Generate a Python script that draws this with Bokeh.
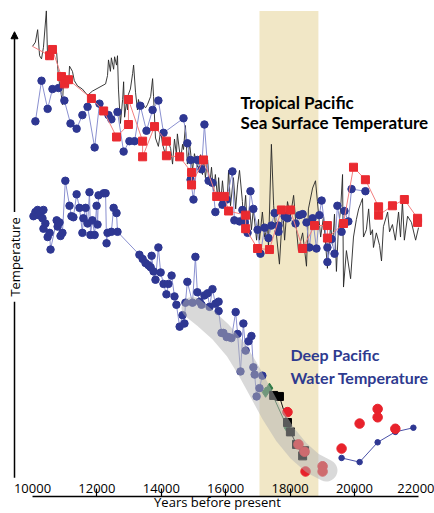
from math import pi
from bokeh.plotting import figure
from bokeh.models import (Range1d, LinearAxis, FixedTicker, BoxAnnotation, Label,
                          Arrow, NormalHead)
from bokeh.embed import file_html
from bokeh.resources import INLINE

# ---------------- data (years before present, relative temperature) ----------------
tick_years = [10000, 12000, 14000, 16000, 18000, 20000, 22000]
inner_ticks = [12000, 14000, 16000, 18000, 20000]
shade_years = [17050, 18880]

# high-resolution tropical SST record (thin black line)
sst_hr_year = [10000, 10090, 10160, 10220, 10280, 10340, 10430, 10470, 10530, 10590, 10650, 10750,
               10810, 10870, 10930, 10960, 11060, 11120, 11150, 11240, 11300, 11400, 11550, 11710,
               11860, 12270,
               12330, 12360, 12420, 12450, 12520, 12550, 12610, 12640, 12670, 12730, 12800, 12830,
               12860, 12920, 12950, 12980, 13040, 13110, 13140, 13200, 13260, 13290, 13350, 13420,
               13510, 13570, 13670, 13730, 13760, 13820, 13910, 13980, 14040, 14130, 14190, 14290,
               14350, 14410, 14470, 14500, 14600, 14660, 14690, 14750, 14810, 14880, 14970, 15030,
               15120, 15220,
               15280, 15310, 15370, 15440, 15500, 15560, 15620, 15680, 15750, 15780, 15840, 15900,
               15960, 16060, 16090, 16150, 16240, 16310, 16370, 16430, 16520, 16550, 16620, 16680,
               16740, 16800, 16860, 16960, 17020, 17050, 17140, 17210, 17300, 17330,
               17420, 17490, 17550, 17670, 17770, 17830, 17920, 18010, 18110, 18170, 18260, 18390,
               18510, 18570, 18700, 18790, 18850, 18950, 19040, 19160, 19260, 19320, 19380, 19440,
               19500, 19570, 19630, 19660, 19750, 19880, 19970, 20060, 20130, 20190, 20250, 20280,
               20370, 20440, 20500, 20560, 20590, 20680, 20780, 20840, 20900, 21030, 21090, 21180,
               21270, 21370, 21430, 21490, 21550, 21650, 21770, 21900, 21990]
sst_hr_temp = [43.2, 43.6, 44.8, 42.3, 42.0, 43.1, 46.6, 41.9, 43.3, 41.9, 42.6, 42.6,
               40.1, 39.2, 37.6, 39.6, 39.8, 39.3, 41.3, 40.8, 39.9, 39.4, 39.1, 38.5,
               38.9, 39.6,
               40.4, 41.9, 40.8, 42.1, 41.0, 42.2, 41.4, 42.3, 39.1, 35.8, 38.1, 39.8,
               36.4, 37.9, 37.1, 38.6, 39.1, 40.6, 41.4, 38.8, 37.1, 38.1, 37.3, 37.6,
               37.3, 37.6, 38.4, 40.1, 38.4, 34.4, 33.6, 35.1, 33.8, 32.8, 34.3, 33.4,
               31.9, 34.3, 32.8, 34.8, 32.3, 33.8, 33.3, 35.6, 31.9, 33.9, 31.3, 32.9,
               31.6, 32.8,
               30.9, 32.6, 30.6, 32.3, 29.8, 31.6, 29.3, 30.9, 28.6, 30.6, 27.9, 30.3,
               28.3, 29.3, 31.3, 27.9, 30.6, 27.6, 29.9, 31.3, 28.3, 26.3, 28.9, 25.3,
               27.9, 25.6, 27.6, 24.6, 26.6, 24.6, 27.3, 24.9, 25.9, 23.9,
               33.8, 27.9, 25.9, 22.3, 27.6, 24.6, 28.3, 26.9, 28.9, 26.6, 23.6, 25.3,
               22.1, 27.6, 29.6, 30.3, 28.3, 24.9, 26.9, 21.9, 26.1, 24.1, 27.1, 21.6,
               25.6, 27.6, 30.9, 20.1, 23.6, 20.9, 24.9, 26.6, 27.6, 28.1, 28.6, 24.9,
               25.6, 27.6, 25.1, 25.6, 23.9, 25.3, 24.1, 22.6, 25.9, 27.3, 25.4, 26.1,
               24.6, 27.3, 24.9, 28.3, 24.6, 26.9, 26.3, 24.6, 25.8]

# alkenone SST (red squares); first point starts the line only
sst_red_year = [10000, 10530, 10620, 10900, 10990, 11120, 11830, 12210, 12610, 12980, 12980,
                13420, 13420, 13790, 14160, 14160, 14570, 14940, 14940, 15310, 15720, 15960,
                16090, 16620, 16620, 16990, 17360, 17730, 18010, 18390, 18760, 19160, 19160,
                19660, 19970, 20340, 20750, 20750, 21180, 21550, 21960, 21960]
sst_red_temp = [43.2, 42.3, 42.9, 40.3, 39.6, 40.0, 38.2, 37.0, 34.5, 35.7, 38.1,
                34.1, 32.6, 35.5, 34.1, 32.7, 32.6, 31.1, 29.9, 32.3, 28.8, 28.8,
                27.4, 27.0, 25.7, 23.8, 23.7, 27.5, 27.5, 23.8, 26.0, 26.0, 24.8,
                26.2, 31.6, 30.4, 27.8, 27.0, 27.9, 28.5, 26.7, 26.3]

# Mg/Ca SST (blue circles, upper)
sst_blue_year = [10090, 10280, 10470, 10620, 10810, 10990, 11180, 11370, 11550, 11710, 11930,
                 12080, 12360, 12450, 12640, 12830, 13010, 13170, 13350, 13540, 13730, 13910,
                 14070, 14690, 14810, 14910, 14910, 15000, 15120, 15250, 15340, 15470, 15590,
                 15680, 15900, 16030, 16210, 16270, 16430, 16520, 16590, 16680, 16770, 16860,
                 16990, 17080, 17210, 17330, 17420, 17520, 17640, 17640, 17830, 17920, 18170,
                 18290, 18390, 18510, 18600, 18700, 18820, 18910, 18980, 19160, 19160, 19290,
                 19380, 19470, 19600, 19690, 19810, 19910, 20340]
sst_blue_temp = [36.0, 39.9, 37.2, 39.1, 39.2, 38.0, 35.8, 35.3, 36.6, 37.4, 33.5,
                 37.7, 36.6, 36.2, 36.9, 33.1, 34.1, 34.1, 37.5, 35.1, 37.1, 38.0,
                 34.9, 36.3, 33.9, 32.3, 30.4, 28.5, 32.3, 31.4, 35.7, 30.3, 30.1,
                 27.3, 28.0, 28.5, 31.2, 26.5, 26.4, 27.5, 26.3, 25.3, 29.3, 27.6,
                 25.6, 23.3, 25.8, 24.8, 26.0, 27.2, 26.0, 25.4, 26.9, 26.7, 26.2,
                 27.0, 27.1, 26.3, 23.9, 26.7, 23.8, 27.0, 28.4, 23.9, 22.5, 24.7,
                 23.3, 27.9, 25.4, 27.4, 26.4, 29.5, 29.3]

# deep Pacific water temperature (blue circles, lower)
deep_year = [10030, 10090, 10160, 10190, 10250, 10310, 10340, 10340, 10400, 10470, 10530, 10560,
             10750, 10780, 10840, 10870, 10930, 11020, 11150, 11210, 11270, 11370, 11460, 11550,
             11580, 11650, 11710, 11770, 11800, 11860, 11930, 11990, 12020, 12050, 12210, 12270,
             12300, 12330, 12450, 12520, 12610, 12640,
             13320, 13420, 13510, 13600, 13670, 13700, 13760, 13820, 13910, 13980, 14070, 14160,
             14220, 14320, 14410, 14470, 14570, 14660, 14720, 14750, 14810, 14970, 15060, 15120,
             15190, 15250, 15340, 15440, 15500, 15590, 15680, 15780, 15780, 15870, 15930, 16030,
             16090, 16180, 16310, 16370, 16460, 16550, 16620, 16710, 16800, 16860, 16900, 16960,
             17050, 17140]
deep_temp = [26.9, 27.3, 27.5, 27.0, 27.2, 26.7, 27.5, 25.7, 26.2, 24.9, 25.3, 23.7,
             26.5, 25.9, 26.3, 25.0, 25.3, 30.3, 27.9, 26.9, 26.8, 29.0, 27.7, 25.3,
             26.7, 27.7, 26.2, 29.2, 25.1, 26.5, 25.1, 27.9, 26.1, 28.9, 29.1, 29.1,
             24.3, 25.3, 25.4, 27.7, 27.2, 25.4,
             23.2, 22.8, 22.4, 22.2, 22.0, 23.1, 21.6, 20.8, 23.9, 21.5, 20.4, 19.4,
             20.4, 21.2, 19.2, 18.4, 16.3, 17.4, 16.6, 18.6, 20.6, 18.6, 23.0, 19.6,
             18.7, 18.4, 19.3, 19.5, 18.2, 19.9, 18.5, 18.7, 17.8, 15.7, 15.7, 15.3,
             15.3, 15.2, 17.7, 15.6, 12.0, 16.6, 14.0, 14.9, 15.4, 12.4, 11.7, 9.6,
             10.4, 11.6]

# deep-water trend (grey band)
trend_year = [14970, 15370, 15840, 16310, 16710, 17080, 17450, 17860, 18260, 18700, 19130]
trend_temp = [18.1, 17.1, 15.8, 14.1, 12.1, 10.0, 7.9, 5.9, 4.4, 3.2, 2.5]

green_year = [17240, 17360, 17920]
green_temp = [10.0, 10.4, 6.6]

black_sq_year = [17490, 17670, 17920, 18010, 18200, 18390, 18450]
black_sq_temp = [9.7, 9.6, 7.1, 6.2, 5.0, 3.9, 4.4]

red_dot_year = [17920, 18260, 18450, 18480, 19010, 19010, 19600, 20160, 20720, 20720, 21270]
red_dot_temp = [8.1, 5.0, 4.3, 2.4, 2.9, 2.4, 4.6, 7.0, 8.4, 7.6, 6.5]

deep_late_year = [19600, 20160, 20720, 21270, 21830]
deep_late_temp = [3.7, 3.3, 5.2, 6.2, 6.6]

# ---------------- figure ----------------
NAVY = "#2e3792"
p = figure(width=434, height=513, output_backend="svg", toolbar_location=None,
           x_range=Range1d(9006, 22486), y_range=Range1d(0, 47.6),
           x_axis_type=None, y_axis_type=None,
           min_border_left=0, min_border_right=0, min_border_top=0, min_border_bottom=0)
p.outline_line_color = None
p.background_fill_color = "white"

xaxis = LinearAxis(ticker=FixedTicker(ticks=tick_years, minor_ticks=inner_ticks),
                   bounds=(tick_years[0], tick_years[-1]))
xaxis.axis_line_color = "black"
xaxis.axis_line_width = 1.5
xaxis.major_tick_line_color = None
xaxis.major_tick_in = 0
xaxis.major_tick_out = 0
xaxis.minor_tick_line_color = "black"
xaxis.minor_tick_line_width = 1.2
xaxis.minor_tick_in = 8
xaxis.minor_tick_out = 0
xaxis.major_label_text_font = "Open Sans"
xaxis.major_label_text_font_size = "13px"
xaxis.major_label_text_color = "black"
xaxis.major_label_standoff = -13
xaxis.axis_label = "Years before present"
xaxis.axis_label_text_font = "Open Sans"
xaxis.axis_label_text_font_size = "13px"
xaxis.axis_label_text_font_style = "normal"
xaxis.axis_label_text_color = "black"
xaxis.axis_label_standoff = -3
p.add_layout(xaxis, "below")

p.add_layout(BoxAnnotation(left=shade_years[0], right=shade_years[1], top=46.6,
                           fill_color="#f1e7c6", fill_alpha=1.0, line_color=None,
                           level="underlay"))

# SST records
p.line(sst_hr_year, sst_hr_temp, line_color="#262626", line_width=0.9)
p.line(sst_blue_year, sst_blue_temp, line_color="#8a90d0", line_width=1)
p.scatter(sst_blue_year, sst_blue_temp, marker="circle", size=7.5, fill_color=NAVY, line_color=NAVY)
p.line(sst_red_year, sst_red_temp, line_color="#f27f7f", line_width=1)
p.scatter(sst_red_year[1:], sst_red_temp[1:], marker="square", size=8, fill_color="#ea2a30",
          line_color="#ea2a30")

# deep water records
p.line(deep_year, deep_temp, line_color="#8a90d0", line_width=1)
p.scatter(deep_year, deep_temp, marker="circle", size=7.5, fill_color=NAVY, line_color=NAVY)
p.line(green_year, green_temp, line_color="#2d6b3c", line_width=1)
p.scatter(green_year, green_temp, marker="diamond", size=10, fill_color="#2f7a45", line_color="#2f7a45")
p.line(black_sq_year, black_sq_temp, line_color="#111111", line_width=1)
p.scatter(black_sq_year, black_sq_temp, marker="square", size=8, fill_color="black", line_color="black")
p.line(deep_late_year, deep_late_temp, line_color="#4a52a8", line_width=1)
p.scatter(deep_late_year, deep_late_temp, marker="circle", size=5.5, fill_color=NAVY, line_color=NAVY)
p.scatter(red_dot_year, red_dot_temp, marker="circle", size=9.5, fill_color="#e8222b", line_color="#e8222b")

# grey trend band on top
p.line(trend_year, trend_temp, line_color="#b4b4b4", line_alpha=0.5, line_width=22,
       line_cap="round", line_join="round")

# texts
p.add_layout(Label(x=16460, y=36.8, text="Tropical Pacific", text_font="Lato",
                   text_font_style="bold", text_font_size="17px", text_color="black"))
p.add_layout(Label(x=16460, y=34.9, text="Sea Surface Temperature", text_font="Lato",
                   text_font_style="bold", text_font_size="17px", text_color="black"))
p.add_layout(Label(x=18010, y=12.7, text="Deep Pacific", text_font="Lato",
                   text_font_style="bold", text_font_size="16px", text_color="#2e3a8f"))
p.add_layout(Label(x=18010, y=10.5, text="Water Temperature", text_font="Lato",
                   text_font_style="bold", text_font_size="16px", text_color="#2e3a8f"))

# temperature arrow (y axis), interrupted by its label
p.segment(x0=[9441], y0=[1.8], x1=[9441], y1=[18.7], line_color="black", line_width=1.5)
p.add_layout(Arrow(end=NormalHead(size=7, fill_color="black", line_color="black"),
                   x_start=9441, y_start=27.3, x_end=9441, y_end=44.6,
                   line_color="black", line_width=1.5))
p.add_layout(Label(x=9441, y=23.0, text="Temperature", angle=pi / 2, text_align="center",
                   text_baseline="middle", text_font="Open Sans", text_font_size="13px",
                   text_color="black"))

open("out.html", "w").write(file_html(p, INLINE))
